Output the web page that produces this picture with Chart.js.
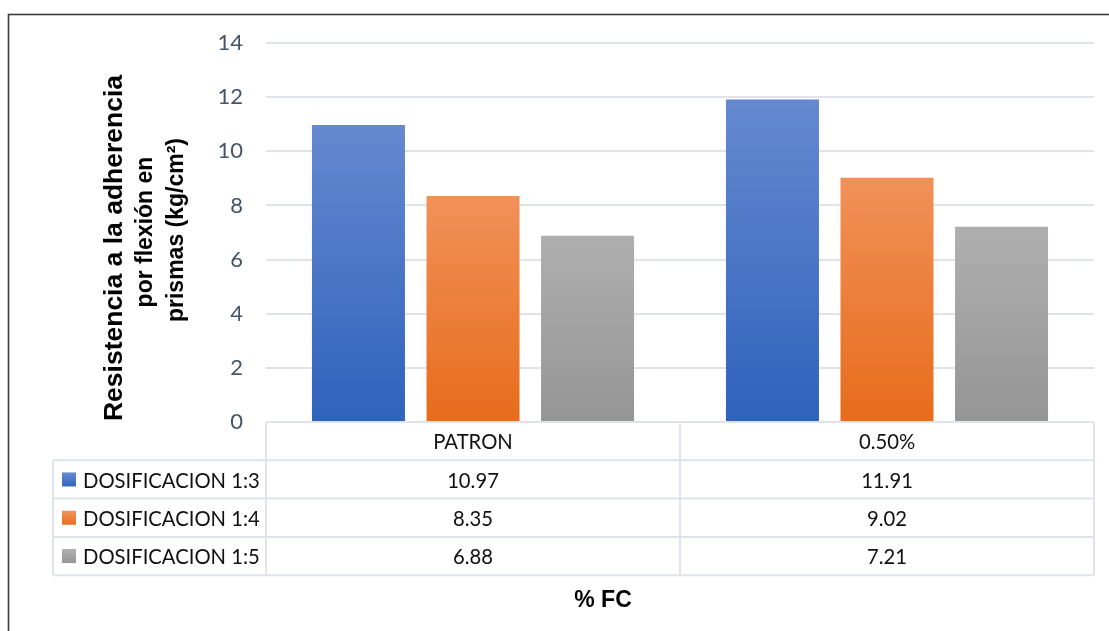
<!DOCTYPE html>
<html>
<head>
<meta charset="utf-8">
<script src="https://cdn.jsdelivr.net/npm/chart.js@4.4.0/dist/chart.umd.min.js"></script>
<style>
  html, body { margin: 0; padding: 0; background: #ffffff; overflow: hidden; }
  #wrap { width: 1109px; height: 631px; position: relative; }
</style>
</head>
<body>
<div id="wrap"><canvas id="chart" width="1109" height="631"></canvas></div>
<script>
// Categories and measured values (kg/cm²)
const categories = ['PATRON', '0.50%'];
const seriesNames = ['DOSIFICACION 1:3', 'DOSIFICACION 1:4', 'DOSIFICACION 1:5'];
const dosificacion13 = [10.97, 11.91];
const dosificacion14 = [8.35, 9.02];
const dosificacion15 = [6.88, 7.21];
const yTitleLines = ['Resistencia a la adherencia', 'por flexión en', 'prismas (kg/cm²)'];
const xTitle = '% FC';

// Vertical gradient stops per series: [top, bottom]
const fills = [
  ['#6489d0', '#2f62bb'],
  ['#f19159', '#e76c1b'],
  ['#afafaf', '#959595']
];

const TABLE_FONT = '22px Lato';
const TABLE_SCALE_X = 0.92;
const TEXT_DARK = '#111111';
const GRID_COLOR = '#e0e4ea';

function barFill(stops) {
  return (ctx) => {
    const chart = ctx.chart;
    if (!chart.chartArea || ctx.type !== 'data' || !chart.scales.y) return stops[1];
    const ys = chart.scales.y;
    const top = ys.getPixelForValue(ctx.raw);
    const bottom = ys.getPixelForValue(0);
    const g = chart.ctx.createLinearGradient(0, top, 0, bottom);
    g.addColorStop(0, stops[0]);
    g.addColorStop(1, stops[1]);
    return g;
  };
}

// Text slightly condensed horizontally for the table cells
function tableText(ctx, text, x, y, align) {
  ctx.save();
  ctx.translate(x, y);
  ctx.scale(TABLE_SCALE_X, 1);
  ctx.textAlign = align;
  ctx.fillText(text, 0, 0);
  ctx.restore();
}

// Outer frame around the whole figure
const framePlugin = {
  id: 'frame',
  beforeDraw(chart) {
    const ctx = chart.ctx;
    ctx.save();
    ctx.fillStyle = '#ffffff';
    ctx.fillRect(0, 0, chart.width, chart.height);
    ctx.strokeStyle = '#3c3c3c';
    ctx.lineWidth = 1.6;
    ctx.strokeRect(8.5, 14.5, 1400, 900);
    ctx.restore();
  }
};

// Rotated, three-line title of the value axis
const yTitlePlugin = {
  id: 'yTitle',
  afterDraw(chart) {
    const ctx = chart.ctx;
    const specs = [
      { text: yTitleLines[0], font: 'bold 26.5px "Liberation Sans"', baseX: 122, centerY: 248 },
      { text: yTitleLines[1], font: 'bold 23px "Liberation Sans"', baseX: 152, centerY: 232 },
      { text: yTitleLines[2], font: 'bold 23px "Liberation Sans"', baseX: 183, centerY: 230 }
    ];
    ctx.save();
    ctx.fillStyle = '#000000';
    ctx.textAlign = 'center';
    ctx.textBaseline = 'alphabetic';
    specs.forEach(s => {
      ctx.save();
      ctx.translate(s.baseX, s.centerY);
      ctx.rotate(-Math.PI / 2);
      ctx.font = s.font;
      ctx.fillText(s.text, 0, 0);
      ctx.restore();
    });
    ctx.restore();
  }
};

// Data table drawn under the category axis, plus the axis title
const tablePlugin = {
  id: 'dataTable',
  afterDraw(chart) {
    const ctx = chart.ctx;
    const area = chart.chartArea;
    const xs = chart.scales.x;
    const top = area.bottom;
    const rowH = 38.3;
    const legendLeft = 53;
    const colEdges = [area.left];
    for (let i = 0; i < categories.length - 1; i++) {
      colEdges.push((xs.getPixelForValue(i) + xs.getPixelForValue(i + 1)) / 2);
    }
    colEdges.push(area.right);
    const rowsBottom = top + rowH * (seriesNames.length + 1);

    ctx.save();
    ctx.strokeStyle = GRID_COLOR;
    ctx.lineWidth = 2;
    ctx.beginPath();
    ctx.moveTo(area.left, top); ctx.lineTo(area.right, top);
    for (let r = 1; r <= seriesNames.length + 1; r++) {
      const y = top + rowH * r;
      ctx.moveTo(legendLeft, y); ctx.lineTo(area.right, y);
    }
    colEdges.forEach(x => { ctx.moveTo(x, top); ctx.lineTo(x, rowsBottom); });
    ctx.moveTo(legendLeft, top + rowH); ctx.lineTo(legendLeft, rowsBottom);
    ctx.stroke();

    ctx.font = TABLE_FONT;
    ctx.fillStyle = TEXT_DARK;
    ctx.textBaseline = 'middle';
    categories.forEach((c, i) => {
      tableText(ctx, c, xs.getPixelForValue(i), top + rowH / 2 + 1, 'center');
    });

    chart.data.datasets.forEach((ds, r) => {
      const cy = top + rowH * (r + 1.5) + 1;
      const sx = 62, sz = 14;
      const g = ctx.createLinearGradient(0, cy - sz / 2, 0, cy + sz / 2);
      g.addColorStop(0, fills[r][0]);
      g.addColorStop(1, fills[r][1]);
      ctx.fillStyle = g;
      ctx.fillRect(sx, cy - sz / 2 - 1, sz, sz);
      ctx.fillStyle = TEXT_DARK;
      tableText(ctx, ds.label, 83, cy, 'left');
      ds.data.forEach((v, i) => {
        tableText(ctx, v.toFixed(2), xs.getPixelForValue(i), cy, 'center');
      });
    });

    ctx.font = 'bold 23px "Liberation Sans"';
    ctx.fillStyle = '#000000';
    ctx.textAlign = 'center';
    ctx.textBaseline = 'alphabetic';
    ctx.fillText(xTitle, 603, 607);
    ctx.restore();
  }
};

new Chart(document.getElementById('chart'), {
  type: 'bar',
  data: {
    labels: categories,
    datasets: [
      { label: seriesNames[0], data: dosificacion13, backgroundColor: barFill(fills[0]) },
      { label: seriesNames[1], data: dosificacion14, backgroundColor: barFill(fills[1]) },
      { label: seriesNames[2], data: dosificacion15, backgroundColor: barFill(fills[2]) }
    ]
  },
  options: {
    responsive: false,
    animation: false,
    devicePixelRatio: 1,
    layout: { padding: { left: 8, top: 43, right: 15, bottom: 209 } },
    datasets: { bar: { categoryPercentage: 0.83, barPercentage: 0.812, borderWidth: 0 } },
    plugins: {
      legend: { display: false },
      tooltip: { enabled: false },
      title: { display: false }
    },
    scales: {
      x: { display: false },
      y: {
        min: 0,
        max: 14,
        ticks: {
          stepSize: 2,
          padding: 23,
          color: '#44546a',
          font: { family: 'Lato', size: 22 }
        },
        grid: { color: GRID_COLOR, lineWidth: 2, drawTicks: false },
        border: { display: false },
        afterFit(scale) { scale.width = 258; }
      }
    }
  },
  plugins: [framePlugin, yTitlePlugin, tablePlugin]
});
</script>
</body>
</html>
